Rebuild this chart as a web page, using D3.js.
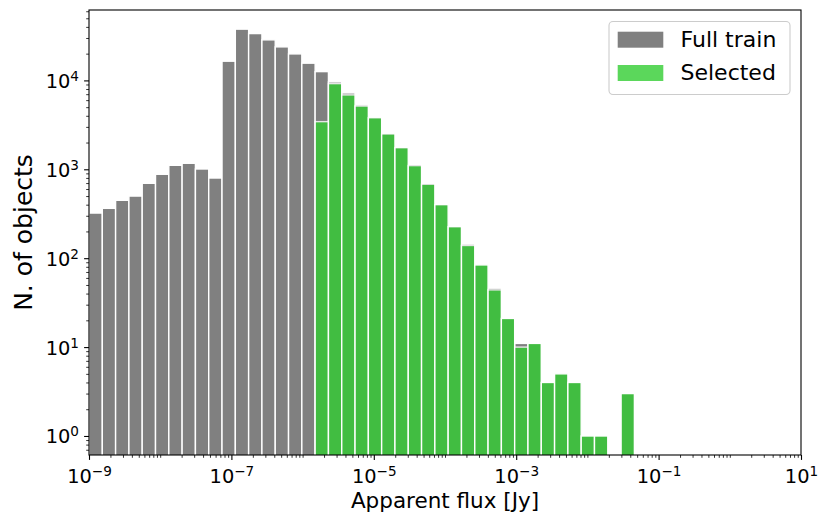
<!DOCTYPE html>
<html>
<head>
<meta charset="utf-8">
<script src="https://cdn.jsdelivr.net/npm/d3@7"></script>
<style>
  html, body { margin: 0; padding: 0; background: #fff; }
  svg { display: block; font-family: "DejaVu Sans", sans-serif; }
</style>
</head>
<body>
<svg id="chart" width="831" height="524"></svg>
<script>
// ---- data ----
const logBinMin = -9.0;      // log10 of first bin edge [Jy]
const logBinMax = -1.34;     // log10 of last bin edge [Jy]
const fullTrain = [322, 364, 448, 500, 696, 879, 1109, 1169, 1008, 798,
                   16450, 37740, 33650, 28590, 23840, 19870, 15630, 12560, 9620, 7230,
                   5300, 3850, 2540, 1770, 1138, 696, 403, 228, 144, 84,
                   46, 21, 11, 11, 4, 5, 4, 1, 1, 0, 3];
const selected  = [0, 0, 0, 0, 0, 0, 0, 0, 0, 0,
                   0, 0, 0, 0, 0, 0, 0, 3436, 9200, 6870,
                   5150, 3800, 2500, 1750, 1100, 680, 400, 226, 139, 84,
                   44, 21, 10, 11, 4, 5, 4, 1, 1, 0, 3];
const seriesNames = ["Full train", "Selected"];
const xMajorTicks = [1e-9, 1e-7, 1e-5, 1e-3, 1e-1, 1e1];
const xMajorExp = ["\u22129", "\u22127", "\u22125", "\u22123", "\u22121", "1"];
const yMajorTicks = [1, 10, 100, 1000, 10000];
const yMajorExp = ["0", "1", "2", "3", "4"];
const xLabel = "Apparent flux [Jy]";
const yLabel = "N. of objects";

// ---- layout ----
const W = 831, H = 524;
const L = 89, R = 801, T = 10, B = 455;
const grayCol = "#808080";
const greenCol = "limegreen";
const greenAlpha = 0.8;

const svg = d3.select("#chart");
const x = d3.scaleLog().domain([1e-9, 10]).range([L, R]);
const y = d3.scaleLog().domain([0.611, 61950]).range([B, T]);

const nBins = fullTrain.length;
const edges = d3.range(nBins + 1).map(i => Math.pow(10, logBinMin + i * (logBinMax - logBinMin) / nBins));

svg.append("defs").append("clipPath").attr("id", "plotclip")
  .append("rect").attr("x", L).attr("y", T).attr("width", R - L).attr("height", B - T);

const plot = svg.append("g").attr("clip-path", "url(#plotclip)");

function drawBars(vals, fill, opacity) {
  const g = plot.append("g").attr("opacity", opacity);
  g.selectAll("rect")
    .data(vals.map((v, i) => ({ v, i })).filter(d => d.v > 0))
    .join("rect")
    .attr("x", d => x(edges[d.i]))
    .attr("width", d => x(edges[d.i + 1]) - x(edges[d.i]))
    .attr("y", d => y(d.v))
    .attr("height", d => B + 5 - y(d.v))
    .attr("fill", fill)
    .attr("stroke", "#ffffff")
    .attr("stroke-width", 1.4);
}
drawBars(fullTrain, grayCol, 1);
drawBars(selected, greenCol, greenAlpha);

// ---- minor ticks ----
const xMinor = [];
for (let k = -9; k <= 0; k++) {
  for (let m = 1; m <= 9; m++) {
    const v = m * Math.pow(10, k);
    if (m === 1 && xMajorTicks.some(t => Math.abs(Math.log10(t) - k) < 1e-9)) continue;
    xMinor.push(v);
  }
}
const yMinor = [];
for (let k = -1; k <= 4; k++) {
  for (let m = 2; m <= 9; m++) {
    const v = m * Math.pow(10, k);
    if (v >= 0.611 && v <= 61950) yMinor.push(v);
  }
}

const tickFont = 19.4;
const supFont = 13.6;

// x axis
const xAxisMinor = svg.append("g").attr("transform", `translate(0,${B})`)
  .call(d3.axisBottom(x).tickValues(xMinor).tickSize(2.8).tickFormat(() => ""));
xAxisMinor.select(".domain").remove();
xAxisMinor.selectAll(".tick line").attr("stroke", "#000").attr("stroke-width", 0.8);

const xAxisMajor = svg.append("g").attr("transform", `translate(0,${B})`)
  .call(d3.axisBottom(x).tickValues(xMajorTicks).tickSize(4.9).tickFormat(() => ""));
xAxisMajor.select(".domain").remove();
xAxisMajor.selectAll(".tick line").attr("stroke", "#000").attr("stroke-width", 1.1);
xAxisMajor.selectAll(".tick text").remove();
xAxisMajor.selectAll(".tick").each(function(d, i) {
  const t = d3.select(this).append("text")
    .attr("y", 27.7)
    .attr("text-anchor", "middle")
    .attr("fill", "#000")
    .style("font-size", tickFont + "px")
    .style("font-family", "DejaVu Sans");
  t.append("tspan").text("10");
  t.append("tspan").attr("dy", -7).style("font-size", supFont + "px").text(xMajorExp[i]);
});

// y axis
const yAxisMinor = svg.append("g").attr("transform", `translate(${L},0)`)
  .call(d3.axisLeft(y).tickValues(yMinor).tickSize(2.8).tickFormat(() => ""));
yAxisMinor.select(".domain").remove();
yAxisMinor.selectAll(".tick line").attr("stroke", "#000").attr("stroke-width", 0.8);

const yAxisMajor = svg.append("g").attr("transform", `translate(${L},0)`)
  .call(d3.axisLeft(y).tickValues(yMajorTicks).tickSize(4.9).tickFormat(() => ""));
yAxisMajor.select(".domain").remove();
yAxisMajor.selectAll(".tick line").attr("stroke", "#000").attr("stroke-width", 1.1);
yAxisMajor.selectAll(".tick text").remove();
yAxisMajor.selectAll(".tick").each(function(d, i) {
  const t = d3.select(this).append("text")
    .attr("x", -10)
    .attr("y", 7)
    .attr("text-anchor", "end")
    .attr("fill", "#000")
    .style("font-size", tickFont + "px")
    .style("font-family", "DejaVu Sans");
  t.append("tspan").text("10");
  t.append("tspan").attr("dy", -7).style("font-size", supFont + "px").text(yMajorExp[i]);
});

// spines
svg.append("rect").attr("x", L).attr("y", T).attr("width", R - L).attr("height", B - T)
  .attr("fill", "none").attr("stroke", "#000").attr("stroke-width", 1.1);

// axis labels
svg.append("text").attr("x", (L + R) / 2).attr("y", 508)
  .attr("text-anchor", "middle").style("font-size", "21.5px").attr("fill", "#000")
  .text(xLabel);
svg.append("text")
  .attr("transform", `translate(32,${(T + B) / 2}) rotate(-90)`)
  .attr("text-anchor", "middle").style("font-size", "25px").attr("fill", "#000")
  .text(yLabel);

// legend
const lg = svg.append("g");
lg.append("rect").attr("x", 609).attr("y", 21.5).attr("width", 181).attr("height", 73)
  .attr("rx", 4).attr("fill", "#fff").attr("fill-opacity", 0.8)
  .attr("stroke", "#cccccc").attr("stroke-width", 1.1);
const legendItems = [
  { name: seriesNames[0], fill: grayCol, op: 1 },
  { name: seriesNames[1], fill: greenCol, op: greenAlpha }
];
legendItems.forEach((it, i) => {
  const yy = 31.7 + i * 33.3;
  lg.append("rect").attr("x", 617.7).attr("y", yy).attr("width", 45.6).attr("height", 16)
    .attr("fill", it.fill).attr("fill-opacity", it.op);
  lg.append("text").attr("x", 680.5).attr("y", yy + 15)
    .style("font-size", "22px").attr("fill", "#000").text(it.name);
});
</script>
</body>
</html>
